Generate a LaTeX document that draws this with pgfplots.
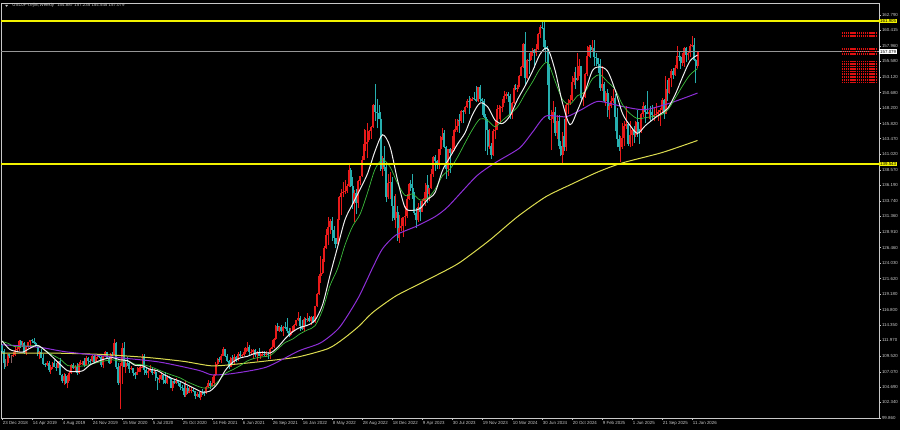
\documentclass[border=0pt]{standalone}
\usepackage{fontspec}
\setmainfont{Liberation Sans}
\usepackage{pgfplots}
\usepackage{pgfplotstable}
\pgfplotsset{compat=1.18}

\definecolor{bull}{HTML}{E81A1A}
\definecolor{bear}{HTML}{26AFAF}
\definecolor{maw}{HTML}{EEEEEE}
\definecolor{mag}{HTML}{3DBE3D}
\definecolor{map}{HTML}{8E2FD8}
\definecolor{may}{HTML}{DCDC50}
\definecolor{lvl}{HTML}{F2F200}
\definecolor{fg}{HTML}{C8C8C8}
\definecolor{bidline}{HTML}{969696}
\definecolor{rowred}{HTML}{E01010}

\newcommand\tk{\fontsize{2.2}{2.5}\selectfont}

% weekly candles, week 0 = 23 Dec 2018
\pgfplotstableread{
i o h l c
0 111.2 111.4 110.0 110.3
1 110.3 110.6 107.5 108.5
2 108.5 109.1 107.8 108.5
3 108.5 109.9 108.0 109.8
4 109.8 109.9 109.2 109.5
5 109.5 109.7 108.5 109.5
6 109.5 110.2 109.4 109.7
7 109.7 111.1 109.6 110.5
8 110.5 110.9 110.3 110.7
9 110.7 112.0 110.4 111.9
10 111.9 112.1 110.8 111.2
11 111.2 111.9 111.0 111.5
12 111.5 111.7 109.9 110.0
13 110.0 111.0 109.7 110.9
14 110.9 111.8 110.8 111.7
15 111.7 112.1 110.8 112.0
16 112.0 112.2 111.6 111.9
17 111.9 112.4 111.4 111.6
18 111.6 111.7 111.0 111.1
19 111.1 111.2 109.5 109.9
20 109.9 110.3 109.0 110.1
21 110.1 110.7 109.2 109.3
22 109.3 109.9 108.2 108.3
23 108.3 108.5 107.8 108.2
24 108.2 108.8 108.0 108.5
25 108.5 108.8 107.0 107.3
26 107.3 108.2 106.8 107.8
27 107.8 108.6 107.5 108.5
28 108.5 108.9 107.8 107.9
29 107.9 108.4 107.2 107.7
30 107.7 108.8 107.6 108.7
31 108.7 109.3 106.5 106.6
32 106.6 106.7 105.3 105.7
33 105.7 106.9 105.0 106.4
34 106.4 106.7 105.2 105.4
35 105.4 106.5 104.5 106.3
36 106.3 107.2 105.7 106.9
37 106.9 108.3 106.8 108.1
38 108.1 108.5 107.5 107.6
39 107.6 108.2 107.0 107.9
40 107.9 108.5 106.5 106.9
41 106.9 108.6 106.8 108.3
42 108.3 108.9 108.2 108.4
43 108.4 108.8 108.2 108.7
44 108.7 109.3 107.9 108.2
45 108.2 109.5 108.1 109.3
46 109.3 109.4 108.3 108.8
47 108.8 109.0 108.2 108.7
48 108.7 109.7 108.6 109.5
49 109.5 109.7 108.4 108.6
50 108.6 109.7 108.4 109.4
51 109.4 109.7 109.1 109.6
52 109.6 109.7 109.2 109.4
53 109.4 109.6 107.9 108.1
54 108.1 109.6 107.6 109.5
55 109.5 110.3 109.4 110.1
56 110.1 110.2 109.2 109.3
57 109.3 109.4 108.3 108.4
58 108.4 110.0 108.3 109.8
59 109.8 110.1 109.6 109.7
60 109.7 112.2 109.7 111.6
61 111.6 111.7 107.5 107.9
62 107.9 108.5 105.0 105.4
63 105.4 108.5 101.2 108.0
64 108.0 111.5 105.2 110.8
65 110.8 111.7 107.8 107.9
66 107.9 108.7 106.9 108.5
67 108.5 109.4 108.0 108.4
68 108.4 108.6 106.9 107.5
69 107.5 108.0 107.3 107.6
70 107.6 107.7 106.4 106.9
71 106.9 107.0 106.0 106.6
72 106.6 107.8 106.5 107.1
73 107.1 107.9 107.0 107.6
74 107.6 108.1 107.1 107.8
75 107.8 109.9 107.6 109.6
76 109.6 109.8 106.6 107.4
77 107.4 107.6 106.6 106.9
78 106.9 107.6 106.1 107.2
79 107.2 108.2 107.1 107.5
80 107.5 107.8 106.6 106.9
81 106.9 107.5 106.7 107.0
82 107.0 107.4 105.7 106.1
83 106.1 106.2 104.2 105.8
84 105.8 106.5 105.3 105.9
85 105.9 107.0 105.8 106.6
86 106.6 106.7 105.1 105.8
87 105.8 107.0 105.2 105.4
88 105.4 106.5 105.2 106.2
89 106.2 106.4 105.9 106.1
90 106.1 106.2 104.5 104.6
91 104.6 105.7 104.0 105.6
92 105.6 105.8 105.2 105.3
93 105.3 106.1 105.2 105.6
94 105.6 105.7 104.9 105.4
95 105.4 105.5 104.3 104.7
96 104.7 105.0 104.0 104.6
97 104.6 105.3 103.2 103.4
98 103.4 105.7 103.2 104.6
99 104.6 104.8 103.6 103.8
100 103.8 104.8 103.7 104.1
101 104.1 104.7 103.7 104.2
102 104.2 104.5 103.9 104.0
103 104.0 104.1 102.9 103.3
104 103.3 103.9 103.1 103.6
105 103.6 103.9 103.0 103.2
106 103.2 104.0 102.6 103.9
107 103.9 104.4 103.5 103.8
108 103.8 104.1 103.3 103.7
109 103.7 104.9 103.6 104.7
110 104.7 105.8 104.6 105.4
111 105.4 105.7 104.4 104.9
112 104.9 106.2 104.8 105.4
113 105.4 106.7 104.9 106.6
114 106.6 108.6 106.4 108.3
115 108.3 109.2 108.2 109.0
116 109.0 109.4 108.6 108.9
117 108.9 109.9 108.4 109.6
118 109.6 110.9 109.5 110.6
119 110.6 110.7 109.4 109.6
120 109.6 109.8 108.6 108.8
121 108.8 108.9 107.5 107.9
122 107.9 109.4 107.8 109.3
123 109.3 109.7 108.3 108.6
124 108.6 109.8 108.3 109.4
125 109.4 109.5 108.6 108.9
126 108.9 110.2 108.7 109.8
127 109.8 110.3 109.4 109.5
128 109.5 109.8 109.2 109.7
129 109.7 110.8 109.6 110.2
130 110.2 111.0 109.8 110.8
131 110.8 111.7 110.4 111.0
132 111.0 111.2 109.5 110.1
133 110.1 110.7 109.7 110.2
134 110.2 110.6 109.1 110.5
135 110.5 110.6 109.4 109.7
136 109.7 110.4 108.7 110.2
137 110.2 110.8 109.5 109.6
138 109.6 110.0 109.1 109.8
139 109.8 110.3 109.6 109.9
140 109.9 110.4 109.6 109.7
141 109.7 110.4 109.6 109.9
142 109.9 110.1 109.1 109.8
143 109.8 110.8 109.1 110.7
144 110.7 112.1 110.6 111.0
145 111.0 112.3 110.8 112.2
146 112.2 114.4 112.1 114.2
147 114.2 114.7 113.4 113.5
148 113.5 114.3 113.3 114.0
149 114.0 114.4 113.3 113.4
150 113.4 114.2 112.7 114.1
151 114.1 114.9 113.8 114.0
152 114.0 115.5 113.1 113.4
153 113.4 113.9 112.5 112.8
154 112.8 113.9 112.7 113.4
155 113.4 114.3 113.1 113.7
156 113.7 114.5 113.4 114.4
157 114.4 115.2 114.3 115.1
158 115.1 116.4 115.0 115.5
159 115.5 115.8 113.5 114.2
160 114.2 115.1 113.6 113.7
161 113.7 115.7 113.5 115.3
162 115.3 115.4 114.2 115.2
163 115.2 116.3 114.9 115.4
164 115.4 115.8 114.8 115.0
165 115.0 115.8 114.4 115.6
166 115.6 115.8 114.7 114.8
167 114.8 117.4 114.7 117.3
168 117.3 119.4 117.2 119.2
169 119.2 122.4 119.1 122.1
170 122.1 125.1 121.0 122.5
171 122.5 124.7 122.4 124.3
172 124.3 126.7 124.2 126.4
173 126.4 129.4 126.3 128.5
174 128.5 131.3 126.9 129.7
175 129.7 131.0 128.6 130.6
176 130.6 131.3 127.5 129.2
177 129.2 129.8 127.0 127.9
178 127.9 128.0 126.4 127.1
179 127.1 131.0 127.0 130.9
180 130.9 134.6 130.8 134.4
181 134.4 135.6 131.5 135.0
182 135.0 136.7 134.3 135.2
183 135.2 137.0 134.8 135.3
184 135.3 136.4 135.0 136.1
185 136.1 139.4 136.0 138.6
186 138.6 138.9 136.0 136.1
187 136.1 137.5 132.5 133.3
188 133.3 135.5 130.4 135.0
189 135.0 135.6 131.7 133.4
190 133.4 137.0 132.6 136.9
191 136.9 137.7 136.2 137.6
192 137.6 140.8 137.5 140.2
193 140.2 145.0 140.1 142.6
194 142.6 144.9 141.6 143.0
195 143.0 146.0 140.4 143.4
196 143.4 144.9 143.3 144.7
197 144.7 145.4 143.5 145.3
198 145.3 148.9 145.2 148.7
199 148.7 152.0 146.2 147.7
200 147.7 149.7 145.1 147.5
201 147.5 148.8 146.5 146.6
202 146.6 147.6 138.5 138.8
203 138.8 140.8 137.7 140.4
204 140.4 142.3 138.4 139.1
205 139.1 139.9 133.6 134.3
206 134.3 137.9 134.1 136.6
207 136.6 138.2 134.1 136.7
208 136.7 137.5 130.6 132.9
209 132.9 134.5 130.8 131.1
210 131.1 134.8 129.5 132.1
211 132.1 132.9 127.5 127.9
212 127.9 131.6 127.2 129.6
213 129.6 131.1 129.0 129.9
214 129.9 131.3 128.1 131.2
215 131.2 132.9 129.8 131.4
216 131.4 134.8 131.1 134.1
217 134.1 136.5 133.9 136.4
218 136.4 137.1 135.3 135.8
219 135.8 137.9 134.1 135.0
220 135.0 135.1 131.5 131.8
221 131.8 132.6 129.6 130.7
222 130.7 133.5 130.4 132.8
223 132.8 133.8 130.6 132.1
224 132.1 134.0 132.0 133.8
225 133.8 135.1 133.6 134.2
226 134.2 136.6 133.0 136.3
227 136.3 137.8 133.5 134.8
228 134.8 135.8 133.7 135.7
229 135.7 138.8 135.6 137.9
230 137.9 140.7 137.5 140.6
231 140.6 140.9 138.4 140.0
232 140.0 140.2 138.8 139.4
233 139.4 141.9 138.8 141.8
234 141.8 143.9 141.0 143.7
235 143.7 145.1 143.2 144.3
236 144.3 144.9 142.0 142.1
237 142.1 142.3 137.2 138.8
238 138.8 141.9 137.7 141.8
239 141.8 142.0 138.1 141.2
240 141.2 143.9 141.1 141.8
241 141.8 145.0 141.5 144.9
242 144.9 146.6 144.5 145.4
243 145.4 146.6 144.5 146.4
244 146.4 147.4 144.4 146.2
245 146.2 147.9 145.9 147.8
246 147.8 147.9 145.9 147.7
247 147.7 148.5 147.3 148.4
248 148.4 149.7 148.3 149.4
249 149.4 150.2 147.3 149.3
250 149.3 149.8 148.2 149.6
251 149.6 150.0 149.3 149.9
252 149.9 150.8 149.5 149.6
253 149.6 151.7 149.2 149.4
254 149.4 151.6 149.2 151.5
255 151.5 151.9 149.2 149.6
256 149.6 149.8 147.2 149.4
257 149.4 149.7 146.7 146.8
258 146.8 147.4 141.6 144.9
259 144.9 146.6 140.9 142.2
260 142.2 145.0 141.9 142.4
261 142.4 142.8 140.3 141.0
262 141.0 145.0 140.8 144.6
263 144.6 146.4 143.4 144.9
264 144.9 148.8 144.8 148.1
265 148.1 148.7 146.6 148.2
266 148.2 148.6 145.9 148.4
267 148.4 149.6 147.6 149.3
268 149.3 150.9 149.1 150.2
269 150.2 150.8 149.6 150.5
270 150.5 150.8 149.2 150.1
271 150.1 150.5 146.5 147.1
272 147.1 149.2 146.5 149.0
273 149.0 151.9 148.9 151.4
274 151.4 152.0 151.0 151.3
275 151.3 151.8 150.8 151.6
276 151.6 153.4 151.5 153.3
277 153.3 154.8 153.2 154.6
278 154.6 158.4 154.5 158.3
279 158.3 160.2 151.9 153.0
280 153.0 155.9 152.8 155.8
281 155.8 156.8 153.6 155.7
282 155.7 157.2 155.6 157.0
283 157.0 157.7 156.4 157.3
284 157.3 157.4 154.5 156.8
285 156.8 158.3 156.4 157.4
286 157.4 159.9 157.3 159.8
287 159.8 161.3 159.2 160.9
288 160.9 161.9 160.6 160.7
289 160.7 161.8 157.4 157.8
290 157.8 158.9 155.4 157.5
291 157.5 157.9 151.9 153.7
292 153.7 155.2 146.4 146.5
293 146.5 147.9 141.7 146.6
294 146.6 149.4 146.0 147.6
295 147.6 148.4 143.9 144.4
296 144.4 147.2 143.5 146.2
297 146.2 147.2 141.8 142.3
298 142.3 143.1 140.7 140.9
299 140.9 144.5 139.6 143.9
300 143.9 146.5 141.6 142.2
301 142.2 149.0 141.6 148.7
302 148.7 149.6 147.4 149.1
303 149.1 150.3 148.8 149.5
304 149.5 153.2 149.4 152.3
305 152.3 153.9 151.8 152.9
306 152.9 154.7 151.3 152.6
307 152.6 156.8 152.5 154.3
308 154.3 155.9 153.3 154.8
309 154.8 154.9 149.5 149.8
310 149.8 150.8 148.6 150.0
311 150.0 153.7 149.9 153.6
312 153.6 157.9 153.3 156.4
313 156.4 158.1 156.3 157.8
314 157.8 158.1 156.0 157.3
315 157.3 158.9 157.2 157.7
316 157.7 158.9 154.9 156.3
317 156.3 156.8 154.8 156.0
318 156.0 156.1 153.7 155.2
319 155.2 155.9 150.9 151.4
320 151.4 154.8 150.9 152.0
321 152.0 152.4 149.2 149.3
322 149.3 150.9 148.6 150.6
323 150.6 151.3 146.9 148.0
324 148.0 149.1 146.5 148.6
325 148.6 150.2 148.2 149.3
326 149.3 151.2 149.0 149.8
327 149.8 150.5 144.6 146.9
328 146.9 148.3 142.1 143.5
329 143.5 144.0 141.6 142.2
330 142.2 143.9 139.9 143.6
331 143.6 145.9 141.9 144.9
332 144.9 146.2 142.4 145.4
333 145.4 148.6 145.0 145.7
334 145.7 145.9 142.4 142.6
335 142.6 146.3 142.1 144.0
336 144.0 145.1 142.4 144.9
337 144.9 145.4 142.8 144.1
338 144.1 146.3 143.8 146.1
339 146.1 148.0 143.8 144.6
340 144.6 145.0 142.7 144.5
341 144.5 147.5 144.4 147.4
342 147.4 149.2 146.9 148.6
343 148.6 148.7 145.9 147.7
344 147.7 150.9 147.3 147.4
345 147.4 147.9 146.6 147.7
346 147.7 148.5 146.2 147.2
347 147.2 148.8 146.5 146.9
348 146.9 148.2 146.2 147.1
349 147.1 149.1 147.0 147.4
350 147.4 147.9 146.3 147.7
351 147.7 148.2 145.5 148.0
352 148.0 149.9 147.7 149.5
353 149.5 149.6 146.6 147.4
354 147.4 153.3 147.3 151.2
355 151.2 152.6 149.4 150.6
356 150.6 153.0 150.5 152.9
357 152.9 154.4 151.5 154.0
358 154.0 154.5 152.8 153.4
359 153.4 155.0 153.3 154.5
360 154.5 157.9 154.3 156.4
361 156.4 157.0 155.6 156.2
362 156.2 156.4 154.4 155.3
363 155.3 156.9 154.9 155.8
364 155.8 157.8 154.7 157.7
365 157.7 157.8 155.5 156.5
366 156.5 157.2 155.8 156.8
367 156.8 158.2 156.2 157.9
368 157.9 159.45 157.8 158.1
369 158.1 159.2 155.6 155.7
370 155.7 155.9 152.1 154.9
371 154.887 157.235 154.545 157.079
}\candles

\begin{document}
\begin{tikzpicture}
\useasboundingbox (-0.5pt,-6pt) rectangle (449.5pt,209pt);
\fill[black] (-0.5pt,-6pt) rectangle (449.5pt,209pt);
\begin{axis}[
    at={(0,0)}, anchor=south west,
    scale only axis, width=439pt, height=207.5pt,
    xmin=-0.5, xmax=467.77, ymin=99.86, ymax=164.66,
    clip=false,
    axis line style={draw=fg, line width=0.35pt},
    tick style={draw=fg, line width=0.3pt},
    major tick length=1pt, tick align=outside,
    xtick pos=left, ytick pos=right, yticklabel pos=right,
    xtick={0,16,...,368},
    xticklabels={23 Dec 2018,14 Apr 2019,4 Aug 2019,24 Nov 2019,15 Mar 2020,5 Jul 2020,25 Oct 2020,14 Feb 2021,6 Jun 2021,26 Sep 2021,16 Jan 2022,8 May 2022,28 Aug 2022,18 Dec 2022,9 Apr 2023,30 Jul 2023,19 Nov 2023,10 Mar 2024,30 Jun 2024,20 Oct 2024,9 Feb 2025,1 Jun 2025,21 Sep 2025,11 Jan 2026},
    xticklabel style={anchor=north west, inner sep=0pt, xshift=0.3pt, yshift=-0.6pt, text=fg, font=\tk},
    ytick={99.86,102.34,104.69,107.07,109.52,111.97,114.35,116.80,119.18,121.62,124.03,126.46,128.91,131.36,133.74,136.19,138.57,141.02,143.47,145.82,148.20,150.68,153.12,155.58,157.96,160.415,162.79},
    yticklabels={99.860,102.340,104.690,107.070,109.520,111.970,114.350,116.800,119.180,121.620,124.030,126.460,128.910,131.360,133.740,136.190,138.570,141.020,143.470,145.820,148.200,150.680,153.120,155.580,157.960,160.415,162.790},
    yticklabel style={anchor=west, inner sep=0pt, xshift=0.3pt, text=fg, font=\tk},
    colormap={updown}{color=(bear) color=(bull)},
    point meta min=-0.001, point meta max=0.001,
]
% wicks
\addplot[-, line width=0.3pt, point meta={\thisrow{c}-\thisrow{o}},
    quiver={u=0, v=\thisrow{h}-\thisrow{l}, every arrow/.append style={draw=mapped color}}]
    table[x=i, y=l] {\candles};
% bodies
\addplot[-, line width=0.95pt, point meta={\thisrow{c}-\thisrow{o}},
    quiver={u=0, v=\thisrow{c}-\thisrow{o}, every arrow/.append style={draw=mapped color}}]
    table[x=i, y=o] {\candles};

% slow average (yellow)
\addplot[may, line width=0.5pt, smooth, tension=0.4] coordinates {
(0,110.0)(26,110.0)(52,109.8)(78,109.3)(97,108.7)(112,108.0)(126,108.3)(142,108.8)
(158,109.4)(174,110.7)(182,112.2)(190,114.1)(198,116.4)(210,118.9)(224,121.0)
(238,123.1)(245,124.3)(260,127.6)(275,131.3)(290,134.4)(304,136.4)(318,138.3)
(331,139.7)(352,141.3)(371,143.2)};
% purple
\addplot[map, line width=0.5pt, smooth, tension=0.4] coordinates {
(0,111.3)(20,110.9)(34,110.2)(62,109.3)(84,108.6)(105,107.3)(112,106.6)(123,106.8)
(141,107.8)(158,110.3)(170,111.6)(180,114.0)(190,118.6)(198,123.5)(203,126.3)
(210,128.4)(221,129.8)(231,131.3)(238,132.9)(253,137.6)(263,139.7)(276,142.0)
(283,144.5)(290,147.0)(301,146.9)(309,148.0)(318,149.3)(331,148.5)(343,148.0)
(357,149.1)(371,150.6)};
% green
\addplot[mag, line width=0.35pt, smooth, tension=0.5] coordinates {
(0,111.8)(3,111.55)(7,110.99)(11,111.10)(15,111.12)(19,111.12)(23,110.44)(27,109.68)
(31,109.06)(35,108.07)(39,107.93)(43,107.98)(47,108.22)(51,108.54)(55,108.78)
(59,108.95)(63,108.72)(67,108.78)(71,108.26)(75,108.19)(79,107.89)(83,107.43)
(87,106.95)(91,106.53)(95,106.13)(99,105.50)(103,104.99)(107,104.57)(111,104.61)
(115,105.47)(119,106.80)(123,107.39)(127,108.03)(131,108.79)(135,109.20)(139,109.41)
(143,109.61)(147,110.60)(151,111.64)(155,112.18)(159,113.01)(163,113.61)(167,114.27)
(171,116.73)(175,120.56)(179,123.16)(183,126.90)(187,129.79)(191,131.68)(195,135.04)
(199,138.71)(203,140.17)(207,139.07)(211,136.51)(215,134.61)(219,134.84)(223,133.90)
(227,134.17)(231,135.56)(235,137.70)(239,138.74)(243,140.60)(247,142.81)(251,144.94)
(255,146.56)(259,146.33)(263,145.34)(267,146.34)(271,147.33)(275,148.44)(279,150.46)
(283,152.35)(287,154.38)(291,155.34)(295,152.47)(299,149.57)(303,148.88)(307,150.19)
(311,150.78)(315,152.85)(319,153.44)(323,152.35)(327,151.17)(331,148.76)(335,147.39)
(339,146.61)(343,146.75)(347,146.92)(351,147.12)(355,147.93)(359,149.76)(363,151.72)
(367,153.46)(371,154.41)};
% white
\addplot[maw, line width=0.5pt, smooth, tension=0.5] coordinates {
(0,111.9)(4,110.6)(7,110.3)(11,110.14)(15,110.76)(19,111.2)(23,110.42)(27,109.38)
(31,108.25)(35,107.24)(39,107.1)(43,107.22)(47,108.15)(51,108.69)(55,109.09)
(59,109.28)(63,108.95)(67,108.82)(71,108.09)(75,108.02)(79,107.47)(83,107.24)
(87,106.54)(91,106.0)(95,105.6)(99,105.0)(103,104.43)(107,103.89)(111,104.08)
(115,105.23)(119,107.24)(123,108.55)(127,109.24)(131,109.49)(135,109.98)(139,110.13)
(143,110.0)(147,110.88)(151,112.22)(155,113.31)(159,114.0)(163,114.34)(167,115.13)
(171,117.54)(175,122.17)(179,126.54)(183,130.84)(187,133.25)(191,135.57)(195,138.02)
(199,141.54)(203,144.08)(207,142.2)(211,137.0)(215,132.74)(219,132.29)(223,132.57)
(227,133.99)(231,135.06)(235,138.54)(239,140.61)(243,142.64)(247,144.39)(251,147.24)
(255,149.04)(259,148.47)(263,146.36)(267,145.85)(271,147.06)(275,149.6)(279,151.7)
(283,154.03)(287,156.66)(291,157.54)(295,154.15)(299,149.01)(303,145.66)(307,147.91)
(311,150.82)(315,154.13)(319,154.69)(323,154.0)(327,151.12)(331,147.39)(335,145.54)
(339,144.3)(343,145.47)(347,146.43)(351,147.3)(355,148.18)(359,150.31)(363,153.1)
(367,155.62)(371,156.54)};

% levels and bid line
\addplot[lvl, line width=0.9pt] coordinates {(-0.5,161.905)(467.77,161.905)};
\addplot[lvl, line width=0.9pt] coordinates {(-0.5,139.543)(467.77,139.543)};
\addplot[bidline, line width=0.35pt] coordinates {(-0.5,157.079)(467.77,157.079)};

% red dotted rows on the right
\pgfplotsinvokeforeach{159.94,159.52,157.45,157.07,156.72,155.52,155.16,154.74,154.33,153.96,153.60,153.09,152.67,152.25}{
  \addplot[draw=rowred, line width=0.8pt, dash pattern=on 0.6pt off 0.35pt] coordinates {(448,#1)(466.6,#1)};
}

% price boxes on the scale
\node[fill=lvl, text=black, anchor=west, inner xsep=0.4pt, inner ysep=0.25pt, font=\tk] at (axis cs:467.77,161.905) {161.905};
\node[fill=lvl, text=black, anchor=west, inner xsep=0.4pt, inner ysep=0.25pt, font=\tk] at (axis cs:467.77,139.543) {139.543};
\node[fill=white, text=black, anchor=west, inner xsep=0.4pt, inner ysep=0.25pt, font=\tk] at (axis cs:467.77,157.079) {157.079};

% title
\fill[fg] (rel axis cs:0,1) ++(2pt,-0.9pt) -- ++(1.6pt,0pt) -- ++(-0.8pt,-1pt) -- cycle;
\node[anchor=base west, inner sep=0pt, text=fg, font=\tk] at (rel axis cs:0,1) [xshift=5.5pt, yshift=-1.9pt] {USDJPY.ejlm,Weekly\hspace{1pt} 154.887 157.235 154.545 157.079};
\end{axis}
\end{tikzpicture}
\end{document}
